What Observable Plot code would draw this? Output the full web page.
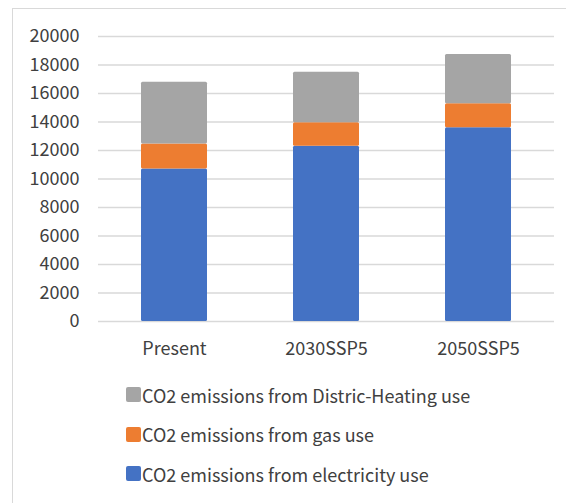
<!DOCTYPE html>
<html>
<head>
<meta charset="utf-8">
<script src="https://cdn.jsdelivr.net/npm/d3@7"></script>
<script src="https://cdn.jsdelivr.net/npm/@observablehq/plot@0.6"></script>
<style>
  html, body { margin: 0; padding: 0; background: #fff; overflow: hidden; width: 566px; height: 503px; }
  #frame { position: absolute; left: 12px; top: 8px; width: 640px; height: 640px; border: 1.5px solid #d9d9d9; box-sizing: border-box; }
  #chart { position: absolute; left: 0; top: 0; }
  #legend { position: absolute; left: 126px; top: 375px; font-family: "Noto Sans CJK KR", "Noto Sans", sans-serif; font-size: 18px; color: #404040; }
  .row { display: flex; align-items: center; height: 39.5px; }
  .sw { width: 15px; height: 15px; border-radius: 2px; margin-right: 1px; }
</style>
</head>
<body>
<div id="frame"></div>
<div id="chart"></div>
<div id="legend"></div>
<script>
const categories = ["Present", "2030SSP5", "2050SSP5"];
const seriesNames = [
  "CO2 emissions from electricity use",
  "CO2 emissions from gas use",
  "CO2 emissions from Distric-Heating use"
];
const electricity = [10700, 12300, 13590];
const gas = [1760, 1640, 1690];
const heating = [4330, 3560, 3460];
const yTicks = [0, 2000, 4000, 6000, 8000, 10000, 12000, 14000, 16000, 18000, 20000];
const colors = ["#4472C4", "#ED7D31", "#A5A5A5"];

const seriesValues = [electricity, gas, heating];
const data = [];
seriesNames.forEach((s, i) => {
  categories.forEach((c, j) => data.push({category: c, series: s, value: seriesValues[i][j]}));
});

const chart = Plot.plot({
  width: 566,
  height: 370,
  marginLeft: 98,
  marginRight: 12,
  marginTop: 36,
  marginBottom: 49,
  style: {fontFamily: '"Noto Sans CJK KR", "Noto Sans", sans-serif', fontSize: "18px", color: "#404040", background: "transparent"},
  x: {domain: categories, paddingInner: 0.566, paddingOuter: 0.283, label: null},
  y: {domain: [0, 20000], ticks: yTicks, label: null},
  color: {domain: seriesNames, range: colors},
  marks: [
    Plot.ruleY(yTicks, {stroke: "#d9d9d9", strokeWidth: 1.5}),
    Plot.barY(data, {x: "category", y: "value", fill: "series", order: seriesNames, rx: 1.5}),
    Plot.axisY({ticks: yTicks, tickSize: 0, tickPadding: 19, tickFormat: d => String(d), fontSize: 18, label: null}),
    Plot.axisX({tickSize: 0, tickPadding: 21, fontSize: 18, label: null})
  ]
});
document.getElementById("chart").appendChild(chart);

const legend = document.getElementById("legend");
[2, 1, 0].forEach(i => {
  const row = document.createElement("div");
  row.className = "row";
  const sw = document.createElement("div");
  sw.className = "sw";
  sw.style.background = colors[i];
  const t = document.createElement("span");
  t.textContent = seriesNames[i];
  row.appendChild(sw);
  row.appendChild(t);
  legend.appendChild(row);
});
</script>
</body>
</html>
